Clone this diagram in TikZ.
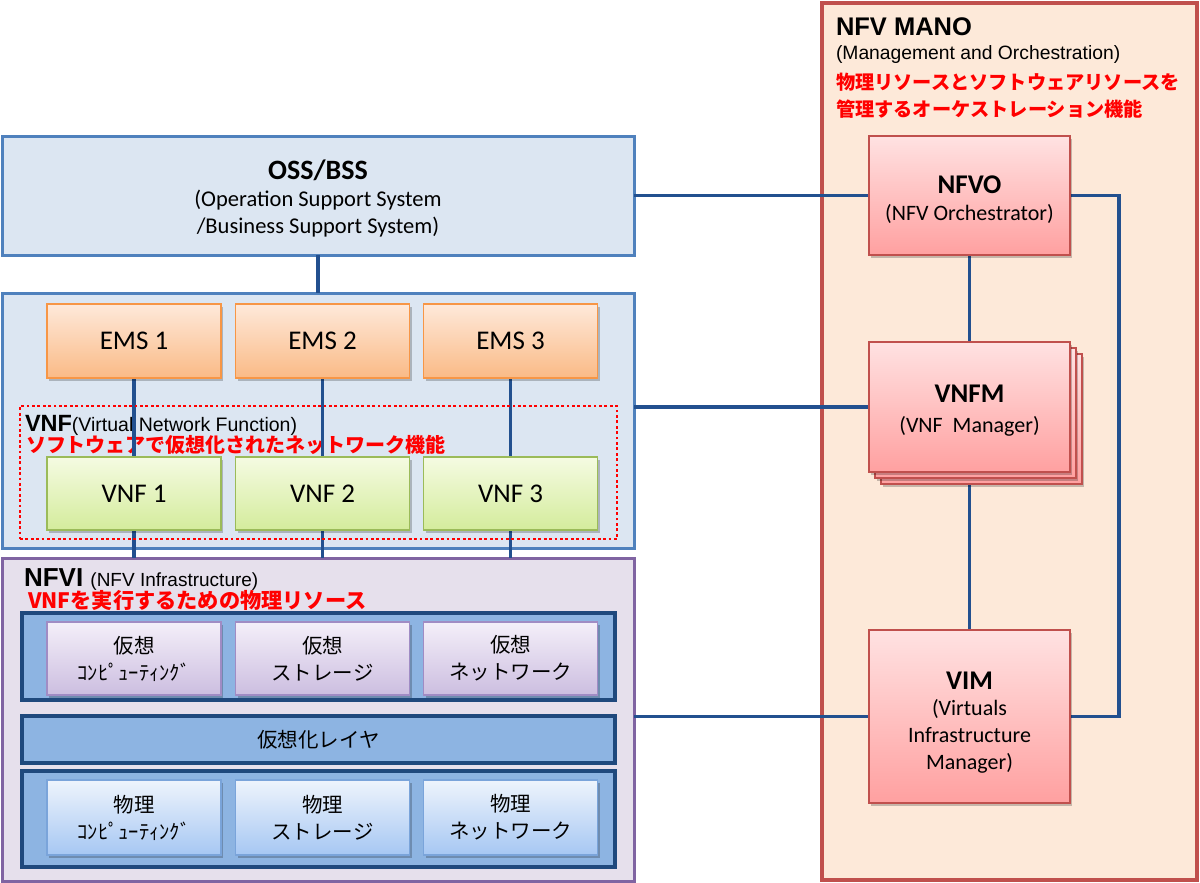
\documentclass[tikz,border=0pt]{standalone}
\usepackage{fontspec}
\setmainfont{Carlito}
\newfontfamily\jp{Noto Sans CJK JP}
\newfontfamily\arial{Liberation Sans}
\usetikzlibrary{shadows}
\pgfdeclarelayer{bg}
\pgfdeclarelayer{mid}
\pgfsetlayers{bg,mid,main}
\definecolor{conn}{HTML}{22508F}
\definecolor{bluebd}{HTML}{4F81BD}
\definecolor{bluefill}{HTML}{DCE6F2}
\definecolor{purbd}{HTML}{8064A2}
\definecolor{purfill}{HTML}{E6E0EC}
\definecolor{navy}{HTML}{1F497D}
\definecolor{layerfill}{HTML}{8DB4E2}
\definecolor{manofill}{HTML}{FDE9D9}
\definecolor{redbd}{HTML}{C0504D}
\definecolor{txtred}{HTML}{FF0000}
\tikzset{
  every node/.style={inner sep=0pt, outer sep=0pt},
  container/.style={draw=bluebd, line width=3, fill=bluefill, align=center},
  shad/.style={drop shadow={shadow xshift=2pt, shadow yshift=-3pt, opacity=0.22, fill=black}},
  emsbox/.style={shad, draw={rgb,255:red,247;green,150;blue,70}, line width=1.3, top color={rgb,255:red,254;green,233;blue,218}, bottom color={rgb,255:red,250;green,186;blue,134}, minimum width=174, minimum height=74, font=\fontsize{27}{30}\selectfont},
  vnfbox/.style={shad, draw={rgb,255:red,155;green,187;blue,89}, line width=1.3, top color={rgb,255:red,245;green,251;blue,226}, bottom color={rgb,255:red,212;green,236;blue,156}, minimum width=174, minimum height=73, font=\fontsize{27}{30}\selectfont},
  virtbox/.style={shad, draw={rgb,255:red,160;green,140;blue,196}, line width=1.3, top color={rgb,255:red,244;green,239;blue,249}, bottom color={rgb,255:red,204;green,190;blue,224}, minimum width=174, minimum height=73, align=center, font=\jp\fontsize{20.5}{27}\selectfont},
  physbox/.style={shad, draw={rgb,255:red,122;green,164;blue,218}, line width=1.3, top color={rgb,255:red,238;green,244;blue,252}, bottom color={rgb,255:red,166;green,199;blue,243}, minimum width=174, minimum height=75, align=center, font=\jp\fontsize{20.5}{27}\selectfont},
  layerbox/.style={draw=navy, line width=3.2, fill=layerfill, minimum width=593},
  manobox/.style={shad, draw=redbd, line width=1.6, top color={rgb,255:red,255;green,226;blue,226}, bottom color={rgb,255:red,255;green,160;blue,160}, minimum width=201},
  titletxt/.style={anchor=base, font=\fontsize{27}{30}\selectfont\bfseries},
  subtxt/.style={anchor=base, font=\fontsize{22}{27}\selectfont},
  link/.style={draw=conn, line width=3.4},
  redtxt/.style={text=txtred, font=\jp\bfseries\fontsize{20}{28}\selectfont, anchor=base west},
}
\begin{document}
\begin{tikzpicture}[x=1pt,y=-1pt]
\useasboundingbox (0,0) rectangle (1200,883);
\begin{pgfonlayer}{bg}
  \node[container, minimum width=632, minimum height=119] (oss) at (318,195.5) {};
  \node[container, minimum width=632, minimum height=255] (vnfarea) at (318,420.5) {};
  \node[container, draw=purbd, fill=purfill, minimum width=632, minimum height=323] (nfvi) at (318,719.5) {};
  \node[draw=redbd, line width=3.5, fill=manofill, minimum width=375, minimum height=877] (mano) at (1009.5,441.5) {};
  % labels inside containers (connectors run over them)
  \node[anchor=base west, font=\arial\bfseries\fontsize{23.5}{26}\selectfont] (vnflbl) at (25,431) {VNF\fontsize{19.5}{22}\selectfont\mdseries(Virtual Network Function)};
  \node[redtxt] (vnfred) at (26,452) {ソフトウェアで仮想化されたネットワーク機能};
  \node[anchor=base west, font=\arial\bfseries\fontsize{26}{28}\selectfont] (nfvilbl) at (24,586) {NFVI {\fontsize{19}{22}\selectfont\mdseries (NFV Infrastructure)}};
  \node[redtxt, font=\jp\bfseries\fontsize{21.2}{28}\selectfont] (nfvired) at (28,608) {VNFを実行するための物理リソース};
\end{pgfonlayer}
% OSS text
\node[align=center, font=\fontsize{22.5}{27}\selectfont] (osstxt) at (318,198) {{\fontsize{28}{30}\selectfont\bfseries OSS/BSS}\\(Operation Support System\\/Business Support System)};
% EMS
\node[emsbox] (ems1) at (134,341) {EMS 1};
\node[emsbox] (ems2) at (322.5,341) {EMS 2};
\node[emsbox] (ems3) at (510.5,341) {EMS 3};
% VNF group
\node[draw=txtred, line width=2.8, dash pattern=on 2.8pt off 2.6pt, minimum width=597, minimum height=133] (vnfgroup) at (318.5,472.5) {};
\node[vnfbox] (vnf1) at (134,493.5) {VNF 1};
\node[vnfbox] (vnf2) at (322.5,493.5) {VNF 2};
\node[vnfbox] (vnf3) at (510.5,493.5) {VNF 3};
% NFVI layers
\node[layerbox, minimum height=87] (lay1) at (318.5,656.5) {};
\node[layerbox, minimum height=47, font=\jp\fontsize{20.5}{24}\selectfont] (lay2) at (318.5,739.5) {仮想化レイヤ};
\node[layerbox, minimum height=96] (lay3) at (318.5,819) {};
\node[virtbox] (v1) at (134,658.5) {仮想\\ｺﾝﾋﾟｭｰﾃｨﾝｸﾞ};
\node[virtbox] (v2) at (322.5,658.5) {仮想\\ストレージ};
\node[virtbox] (v3) at (510.5,658.5) {仮想\\ネットワーク};
\node[physbox] (p1) at (134,817.5) {物理\\ｺﾝﾋﾟｭｰﾃｨﾝｸﾞ};
\node[physbox] (p2) at (322.5,817.5) {物理\\ストレージ};
\node[physbox] (p3) at (510.5,817.5) {物理\\ネットワーク};
% MANO
\node[anchor=base west, font=\arial\bfseries\fontsize{25.5}{28}\selectfont] (manolbl) at (836,36) {NFV MANO};
\node[anchor=base west, font=\arial\fontsize{19.3}{22}\selectfont] (manosub) at (836,60) {(Management and Orchestration)};
\node[redtxt, font=\jp\bfseries\fontsize{19.2}{28}\selectfont] (manored1) at (836,89) {物理リソースとソフトウェアリソースを};
\node[redtxt, font=\jp\bfseries\fontsize{19.2}{28}\selectfont] (manored2) at (836,117) {管理するオーケストレーション機能};
\node[manobox, minimum height=119] (nfvo) at (969.5,195.5) {};
\node[titletxt] (nfvot) at (969.5,193) {NFVO};
\node[subtxt] (nfvos) at (969.5,220) {(NFV Orchestrator)};
\node[manobox, minimum height=130] (vnfmb2) at (981.5,419) {};
\node[manobox, minimum height=130] (vnfmb1) at (975.5,413) {};
\node[manobox, minimum height=130] (vnfm) at (969.5,407) {};
\node[titletxt] (vnfmt) at (969.5,402) {VNFM};
\node[subtxt] (vnfms) at (969.5,432) {(VNF\ \ Manager)};
\node[manobox, minimum height=173] (vim) at (969.5,716.5) {};
\node[titletxt] (vimt) at (969.5,689) {VIM};
\node[subtxt] (vims1) at (969.5,715) {(Virtuals};
\node[subtxt] (vims2) at (969.5,742) {Infrastructure};
\node[subtxt] (vims3) at (969.5,769) {Manager)};
% connectors
\begin{pgfonlayer}{mid}
  \draw[link] (oss.south) -- (vnfarea.north);
  \draw[link] (ems1.south) -- (vnf1.north);
  \draw[link] (ems2.south) -- (vnf2.north);
  \draw[link] (ems3.south) -- (vnf3.north);
  \draw[link] (vnf1.south) -- (vnf1.south |- nfvi.north);
  \draw[link] (vnf2.south) -- (vnf2.south |- nfvi.north);
  \draw[link] (vnf3.south) -- (vnf3.south |- nfvi.north);
  \draw[link] (oss.east) -- (nfvo.west);
  \draw[link] (vnfm.west) -- (vnfm.west -| vnfarea.east);
  \draw[link] (vim.west) -- (vim.west -| nfvi.east);
  \draw[link] (nfvo.south) -- (vnfm.north);
  \draw[link] (vnfm.south) -- (vim.north);
  \draw[link] (nfvo.east) -- ++(49,0) |- (vim.east);
\end{pgfonlayer}
\end{tikzpicture}
\end{document}
